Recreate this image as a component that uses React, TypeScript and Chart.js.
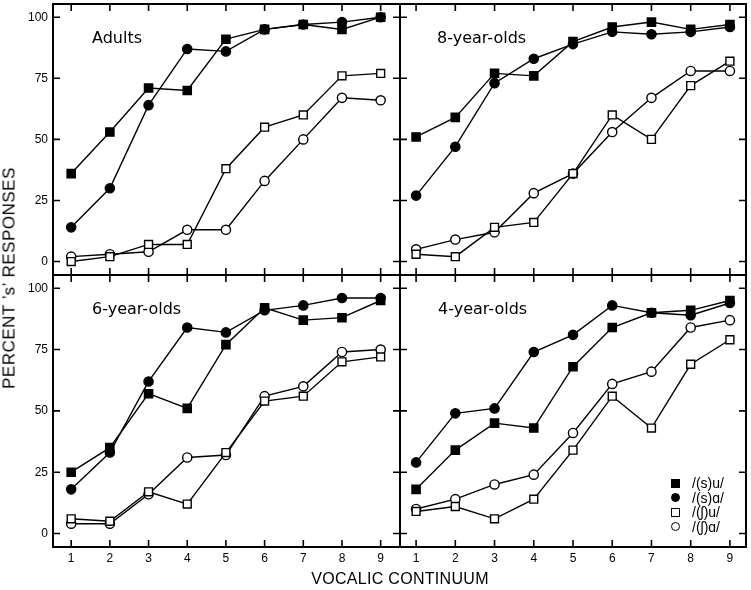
import React, { useEffect, useRef } from 'react';
import { Chart, registerables } from 'chart.js';

Chart.register(...registerables);

// ---- data ----
const categories = [1, 2, 3, 4, 5, 6, 7, 8, 9];
const yTickValues = [0, 25, 50, 75, 100];
const seriesNames = ['/(s)u/', '/(s)ɑ/', '/(ʃ)u/', '/(ʃ)ɑ/'];
const panelTitles = ['Adults', '8-year-olds', '6-year-olds', '4-year-olds'];

const adultsSU = [36, 53, 71, 70, 91, 95, 97, 95, 100];
const adultsSA = [14, 30, 64, 87, 86, 95, 97, 98, 100];
const adultsShU = [0, 2, 7, 7, 38, 55, 60, 76, 77];
const adultsShA = [2, 3, 4, 13, 13, 33, 50, 67, 66];

const eightSU = [51, 59, 77, 76, 90, 96, 98, 95, 97];
const eightSA = [27, 47, 73, 83, 89, 94, 93, 94, 96];
const eightShU = [3, 2, 14, 16, 36, 60, 50, 72, 82];
const eightShA = [5, 9, 12, 28, 36, 53, 67, 78, 78];

const sixSU = [25, 35, 57, 51, 77, 92, 87, 88, 95];
const sixSA = [18, 33, 62, 84, 82, 91, 93, 96, 96];
const sixShU = [6, 5, 17, 12, 33, 54, 56, 70, 72];
const sixShA = [4, 4, 16, 31, 32, 56, 60, 74, 75];

const fourSU = [18, 34, 45, 43, 68, 84, 90, 91, 95];
const fourSA = [29, 49, 51, 74, 81, 93, 90, 89, 94];
const fourShU = [9, 11, 6, 14, 34, 56, 43, 69, 79];
const fourShA = [10, 14, 20, 24, 41, 61, 66, 84, 87];

// ---- styles ----
const pointShapes = ['rect', 'circle', 'rect', 'circle'];
const pointFills = ['#000', '#000', '#fff', '#fff'];
const pointRadii = [5.8, 4.6, 5.6, 4.6];
const tickFont = { family: '"Liberation Sans", Arial, sans-serif', size: 12 };

const framePlugin = {
  id: 'frameTicks',
  afterDraw(chart: any) {
    const { ctx, chartArea } = chart;
    const { left, right, top, bottom } = chartArea;
    const x = chart.scales.x;
    const y = chart.scales.y;
    const L = 7;
    ctx.save();
    ctx.strokeStyle = '#000';
    ctx.lineWidth = 1.6;
    ctx.beginPath();
    categories.forEach((v) => {
      const px = x.getPixelForValue(v);
      ctx.moveTo(px, bottom);
      ctx.lineTo(px, bottom - L);
      ctx.moveTo(px, top);
      ctx.lineTo(px, top + L);
    });
    yTickValues.forEach((v) => {
      const py = y.getPixelForValue(v);
      ctx.moveTo(left, py);
      ctx.lineTo(left + L, py);
      ctx.moveTo(right, py);
      ctx.lineTo(right - L, py);
    });
    ctx.stroke();
    ctx.lineWidth = 2;
    ctx.strokeRect(left, top, right - left, bottom - top);
    ctx.restore();
  },
};

type PanelProps = {
  series: number[][];
  left: number;
  top: number;
  width: number;
  height: number;
  pad: { top: number; right: number; bottom: number; left: number };
  showX: boolean;
  showY: boolean;
  xMin: number;
  xMax: number;
};

function Panel(props: PanelProps) {
  const ref = useRef<HTMLCanvasElement | null>(null);
  useEffect(() => {
    if (!ref.current) return;
    const datasets = props.series.map((vals, i) => ({
      label: seriesNames[i],
      data: categories.map((c, k) => ({ x: c, y: vals[k] })),
      borderColor: '#000',
      borderWidth: 1.4,
      backgroundColor: pointFills[i],
      pointStyle: pointShapes[i] as any,
      pointRadius: pointRadii[i],
      pointBackgroundColor: pointFills[i],
      pointBorderColor: '#000',
      pointBorderWidth: 1.4,
      tension: 0,
      fill: false,
    }));
    const chart = new Chart(ref.current, {
      type: 'line',
      data: { datasets },
      options: {
        animation: false,
        responsive: false,
        maintainAspectRatio: false,
        layout: { padding: props.pad, autoPadding: false },
        plugins: { legend: { display: false }, tooltip: { enabled: false } },
        scales: {
          x: {
            type: 'linear',
            min: props.xMin,
            max: props.xMax,
            display: props.showX,
            afterBuildTicks: (s: any) => {
              s.ticks = categories.map((v) => ({ value: v }));
            },
            afterFit: (s: any) => {
              s.height = props.showX ? 43 : 0;
              s.paddingLeft = 0;
              s.paddingRight = 0;
              s.paddingTop = 0;
              s.paddingBottom = 0;
            },
            grid: { display: false, drawTicks: false },
            border: { display: false },
            ticks: {
              padding: 4,
              color: '#000',
              font: tickFont,
              autoSkip: false,
              maxRotation: 0,
              callback: (v: any) => String(v),
            },
          },
          y: {
            type: 'linear',
            min: -5.5,
            max: 105.4,
            display: props.showY,
            afterBuildTicks: (s: any) => {
              s.ticks = yTickValues.map((v) => ({ value: v }));
            },
            afterFit: (s: any) => {
              s.width = props.showY ? 53 : 0;
              s.paddingLeft = 0;
              s.paddingRight = 0;
              s.paddingTop = 0;
              s.paddingBottom = 0;
            },
            grid: { display: false, drawTicks: false },
            border: { display: false },
            ticks: {
              padding: 5,
              color: '#000',
              font: tickFont,
              autoSkip: false,
              callback: (v: any) => String(v),
            },
          },
        },
      },
      plugins: [framePlugin],
    });
    return () => chart.destroy();
  }, []);
  return (
    <canvas
      ref={ref}
      width={props.width}
      height={props.height}
      style={{
        position: 'absolute',
        left: props.left,
        top: props.top,
        width: props.width,
        height: props.height,
        display: 'block',
      }}
    />
  );
}

const titleStyle: React.CSSProperties = {
  position: 'absolute',
  fontFamily: '"DejaVu Sans", sans-serif',
  fontSize: 16,
  lineHeight: '16px',
  color: '#000',
  whiteSpace: 'nowrap',
};

export default function App() {
  const legendTops = [483, 497.5, 512, 526.5];
  return (
    <div
      style={{
        position: 'absolute',
        left: 0,
        top: 0,
        width: 751,
        height: 590,
        background: '#fff',
        overflow: 'hidden',
      }}
    >
      <Panel
        series={[adultsSU, adultsSA, adultsShU, adultsShA]}
        left={0}
        top={0}
        width={404}
        height={279}
        pad={{ top: 4, right: 4, bottom: 4, left: 0 }}
        showX={false}
        showY={true}
        xMin={0.53}
        xMax={9.5}
      />
      <Panel
        series={[eightSU, eightSA, eightShU, eightShA]}
        left={396}
        top={0}
        width={355}
        height={279}
        pad={{ top: 4, right: 5, bottom: 4, left: 4 }}
        showX={false}
        showY={false}
        xMin={0.59}
        xMax={9.41}
      />
      <Panel
        series={[sixSU, sixSA, sixShU, sixShA]}
        left={0}
        top={271}
        width={404}
        height={319}
        pad={{ top: 4, right: 4, bottom: 0, left: 0 }}
        showX={true}
        showY={true}
        xMin={0.53}
        xMax={9.5}
      />
      <Panel
        series={[fourSU, fourSA, fourShU, fourShA]}
        left={396}
        top={271}
        width={355}
        height={319}
        pad={{ top: 4, right: 5, bottom: 0, left: 4 }}
        showX={true}
        showY={false}
        xMin={0.59}
        xMax={9.41}
      />

      <div style={{ ...titleStyle, left: 92, top: 30 }}>{panelTitles[0]}</div>
      <div style={{ ...titleStyle, left: 437, top: 30 }}>{panelTitles[1]}</div>
      <div style={{ ...titleStyle, left: 92, top: 301 }}>{panelTitles[2]}</div>
      <div style={{ ...titleStyle, left: 438, top: 301 }}>{panelTitles[3]}</div>

      {seriesNames.map((name, i) => (
        <div
          key={name}
          style={{
            position: 'absolute',
            left: 671,
            top: legendTops[i] - 7,
            height: 14,
            display: 'flex',
            alignItems: 'center',
            whiteSpace: 'nowrap',
          }}
        >
          <div
            style={{
              width: 9,
              height: 9,
              boxSizing: 'border-box',
              border: '1.4px solid #000',
              background: pointFills[i],
              borderRadius: pointShapes[i] === 'circle' ? '50%' : 0,
              marginRight: 12,
            }}
          />
          <span
            style={{
              fontFamily: '"Liberation Sans", Arial, sans-serif',
              fontSize: 14,
              lineHeight: '14px',
              color: '#000',
            }}
          >
            {name}
          </span>
        </div>
      ))}

      <div
        style={{
          position: 'absolute',
          left: 400,
          top: 579,
          transform: 'translate(-50%, -50%)',
          fontFamily: '"Liberation Sans", Arial, sans-serif',
          fontSize: 16,
          lineHeight: '16px',
          letterSpacing: 0.3,
          whiteSpace: 'nowrap',
          color: '#000',
        }}
      >
        VOCALIC CONTINUUM
      </div>
      <div
        style={{
          position: 'absolute',
          left: 9,
          top: 278,
          transform: 'translate(-50%, -50%) rotate(-90deg)',
          fontFamily: '"Liberation Sans", Arial, sans-serif',
          fontSize: 17,
          lineHeight: '17px',
          letterSpacing: 0.5,
          whiteSpace: 'nowrap',
          color: '#000',
        }}
      >
        PERCENT ’s’ RESPONSES
      </div>
    </div>
  );
}
